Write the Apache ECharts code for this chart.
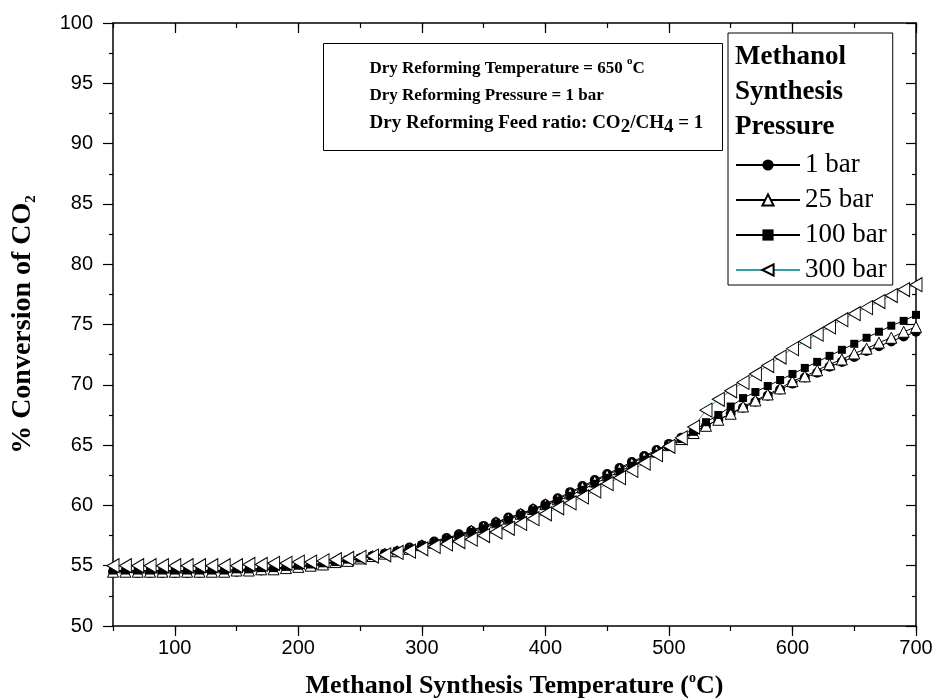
<!DOCTYPE html>
<html>
<head>
<meta charset="utf-8">
<script src="https://cdn.jsdelivr.net/npm/echarts@6/dist/echarts.min.js"></script>
<style>
  html, body { margin: 0; padding: 0; background: #fff; }
  #chart { width: 939px; height: 699px; }
</style>
</head>
<body>
<div id="chart"></div>
<script>
// Methanol synthesis temperature (°C), one point every 10 °C
const temperature = [
  50, 60, 70, 80, 90, 100, 110, 120, 130, 140,
  150, 160, 170, 180, 190, 200, 210, 220, 230, 240,
  250, 260, 270, 280, 290, 300, 310, 320, 330, 340,
  350, 360, 370, 380, 390, 400, 410, 420, 430, 440,
  450, 460, 470, 480, 490, 500, 510, 520, 530, 540,
  550, 560, 570, 580, 590, 600, 610, 620, 630, 640,
  650, 660, 670, 680, 690, 700
];

// % conversion of CO2
const conv1bar = [
  54.5, 54.5, 54.4, 54.4, 54.4, 54.4, 54.4, 54.4, 54.5, 54.5,
  54.5, 54.6, 54.6, 54.7, 54.8, 54.9, 55.0, 55.1, 55.3, 55.4,
  55.6, 55.8, 56.0, 56.2, 56.5, 56.7, 57.0, 57.3, 57.6, 57.9,
  58.3, 58.6, 59.0, 59.3, 59.7, 60.1, 60.6, 61.1, 61.6, 62.1,
  62.6, 63.1, 63.6, 64.1, 64.6, 65.1, 65.6, 66.1, 66.6, 67.1,
  67.6, 68.1, 68.6, 69.1, 69.6, 70.1, 70.6, 71.0, 71.5, 71.9,
  72.3, 72.8, 73.2, 73.6, 74.0, 74.4
];
const conv25bar = [
  54.5, 54.5, 54.5, 54.5, 54.5, 54.5, 54.5, 54.5, 54.5, 54.5,
  54.6, 54.6, 54.7, 54.7, 54.8, 54.9, 55.0, 55.1, 55.3, 55.4,
  55.6, 55.8, 56.0, 56.2, 56.4, 56.7, 56.9, 57.2, 57.5, 57.9,
  58.2, 58.6, 58.9, 59.3, 59.7, 60.1, 60.5, 61.0, 61.5, 62.0,
  62.5, 63.0, 63.5, 64.0, 64.5, 65.0, 65.5, 66.0, 66.6, 67.1,
  67.6, 68.2, 68.7, 69.2, 69.7, 70.3, 70.7, 71.2, 71.7, 72.1,
  72.6, 73.0, 73.5, 73.9, 74.4, 74.8
];
const conv100bar = [
  54.6, 54.6, 54.6, 54.6, 54.6, 54.6, 54.6, 54.6, 54.6, 54.6,
  54.7, 54.7, 54.8, 54.8, 54.9, 55.0, 55.1, 55.2, 55.3, 55.5,
  55.6, 55.8, 56.0, 56.2, 56.4, 56.7, 56.9, 57.2, 57.5, 57.8,
  58.1, 58.5, 58.8, 59.2, 59.6, 60.0, 60.4, 60.8, 61.3, 61.8,
  62.3, 62.8, 63.3, 63.8, 64.3, 64.9, 65.5, 66.1, 66.9, 67.5,
  68.2, 68.9, 69.4, 69.9, 70.4, 70.9, 71.4, 71.9, 72.4, 72.9,
  73.4, 73.9, 74.4, 74.9, 75.3, 75.8
];
const conv300bar = [
  55.0, 55.0, 55.0, 55.0, 55.0, 55.0, 55.0, 55.0, 55.0, 55.0,
  55.0, 55.1, 55.1, 55.2, 55.2, 55.3, 55.3, 55.4, 55.5, 55.6,
  55.7, 55.8, 55.9, 56.1, 56.2, 56.4, 56.6, 56.8, 57.0, 57.2,
  57.5, 57.8, 58.1, 58.5, 58.9, 59.3, 59.8, 60.2, 60.7, 61.2,
  61.8, 62.3, 62.9, 63.5, 64.2, 64.9, 65.6, 66.5, 67.9, 68.8,
  69.5, 70.2, 70.9, 71.6, 72.3, 73.0, 73.6, 74.2, 74.8, 75.4,
  75.9, 76.4, 76.9, 77.4, 77.9, 78.3
];

const seriesNames = ['1 bar', '25 bar', '100 bar', '300 bar'];
const xMajorTicks = [100, 200, 300, 400, 500, 600, 700];

const SERIF = 'Liberation Serif';
const SANS = 'Liberation Sans';
const AXIS_LINE = { lineStyle: { color: '#000', width: 1.5 } };
const TICK_STYLE = { color: '#000', width: 1.2 };

function pairs(values) {
  return temperature.map((t, i) => [t, values[i]]);
}

// axis titles with super/subscripts (y title is drawn a bit larger, as in the figure)
function titleRich(size) {
  return {
    t: { fontFamily: SERIF, fontWeight: 'bold', fontSize: size, color: '#000', lineHeight: size + 5 },
    sup: { fontFamily: SERIF, fontWeight: 'bold', fontSize: 14, color: '#000', lineHeight: 20, verticalAlign: 'top' },
    sub: { fontFamily: SERIF, fontWeight: 'bold', fontSize: 15, color: '#000', lineHeight: 16, verticalAlign: 'bottom' }
  };
}

const chart = echarts.init(document.getElementById('chart'), null, { renderer: 'canvas' });

chart.setOption({
  backgroundColor: '#fff',
  animation: false,
  grid: { left: 113, right: 23, top: 23, bottom: 73, containLabel: false, outerBoundsMode: 'none' },
  xAxis: [
    {
      // bottom axis: labels + minor ticks every 50
      type: 'value', min: 50, max: 700, interval: 50, position: 'bottom',
      axisLine: AXIS_LINE,
      axisTick: { length: 5, lineStyle: TICK_STYLE },
      axisLabel: {
        color: '#000', fontFamily: SANS, fontSize: 20, margin: 12,
        formatter: (v) => (v % 100 === 0 ? String(v) : '')
      },
      splitLine: { show: false },
      name: '{t|Methanol Synthesis Temperature (}{sup|o}{t|C)}',
      nameLocation: 'middle', nameGap: 45,
      nameTextStyle: { rich: titleRich(26) }
    },
    {
      // bottom axis: long ticks at the hundreds
      type: 'value', min: 50, max: 700, interval: 50, position: 'bottom',
      axisLine: { show: false },
      axisTick: { length: 10, lineStyle: TICK_STYLE, customValues: xMajorTicks },
      axisLabel: { show: false },
      splitLine: { show: false }
    },
    {
      type: 'value', min: 50, max: 700, interval: 50, position: 'top',
      axisLine: AXIS_LINE,
      axisTick: { inside: true, length: 5, lineStyle: TICK_STYLE },
      axisLabel: { show: false },
      splitLine: { show: false }
    },
    {
      type: 'value', min: 50, max: 700, interval: 50, position: 'top',
      axisLine: { show: false },
      axisTick: { inside: true, length: 10, lineStyle: TICK_STYLE, customValues: xMajorTicks },
      axisLabel: { show: false },
      splitLine: { show: false }
    }
  ],
  yAxis: [
    {
      type: 'value', min: 50, max: 100, interval: 5, position: 'left',
      axisLine: AXIS_LINE,
      axisTick: { length: 10, lineStyle: TICK_STYLE },
      minorTick: { show: true, splitNumber: 2, length: 4, lineStyle: TICK_STYLE },
      axisLabel: { color: '#000', fontFamily: SANS, fontSize: 20, margin: 20 },
      splitLine: { show: false },
      name: '{t|% Conversion of CO}{sub|2}',
      nameLocation: 'middle', nameGap: 74,
      nameTextStyle: { rich: titleRich(28) }
    },
    {
      type: 'value', min: 50, max: 100, interval: 5, position: 'right',
      axisLine: AXIS_LINE,
      axisTick: { inside: true, length: 10, lineStyle: TICK_STYLE },
      minorTick: { show: true, splitNumber: 2, length: 4, lineStyle: TICK_STYLE },
      axisLabel: { show: false },
      splitLine: { show: false }
    }
  ],
  legend: {
    data: seriesNames,
    orient: 'vertical',
    left: 728, top: 33,
    padding: [117, 6, 0, 7],
    itemWidth: 64, itemHeight: 14, itemGap: 5,
    backgroundColor: '#fff',
    borderColor: '#000', borderWidth: 1, borderRadius: 0,
    textStyle: { fontFamily: SERIF, fontSize: 27, color: '#000', lineHeight: 30 }
  },
  graphic: [
    {
      type: 'text', left: 735, top: 40, z: 100,
      style: {
        text: 'Methanol\nSynthesis\nPressure',
        font: 'bold 27px "Liberation Serif"', lineHeight: 35, fill: '#000'
      }
    },
    {
      type: 'group', left: 323, top: 43,
      children: [
        {
          type: 'rect', shape: { x: 0, y: 0, width: 399, height: 107 },
          style: { fill: '#fff', stroke: '#000', lineWidth: 1 }
        },
        {
          type: 'text', x: 46, y: 12,
          style: {
            text: '{b|Dry Reforming Temperature = 650 }{sup|o}{b|C}\n' +
                  '{b|Dry Reforming Pressure = 1 bar}\n' +
                  '{c|Dry Reforming Feed ratio: CO}{sub|2}{c|/CH}{sub|4}{c| = 1}',
            rich: {
              b: { fontFamily: SERIF, fontWeight: 'bold', fontSize: 17, lineHeight: 27, fill: '#000' },
              c: { fontFamily: SERIF, fontWeight: 'bold', fontSize: 19, lineHeight: 27, fill: '#000' },
              sup: { fontFamily: SERIF, fontWeight: 'bold', fontSize: 11, lineHeight: 17, verticalAlign: 'top', fill: '#000' },
              sub: { fontFamily: SERIF, fontWeight: 'bold', fontSize: 19, lineHeight: 21, verticalAlign: 'bottom', fill: '#000' }
            }
          }
        }
      ]
    }
  ],
  series: [
    {
      name: '1 bar', type: 'line', xAxisIndex: 0, yAxisIndex: 0,
      data: pairs(conv1bar),
      symbol: 'circle', symbolSize: 10,
      itemStyle: { color: '#000' },
      lineStyle: { color: '#000', width: 1 }
    },
    {
      name: '25 bar', type: 'line', xAxisIndex: 0, yAxisIndex: 0,
      data: pairs(conv25bar),
      symbol: 'triangle', symbolSize: 11,
      itemStyle: { color: '#fff', borderColor: '#000', borderWidth: 1 },
      lineStyle: { color: '#000', width: 1 }
    },
    {
      name: '100 bar', type: 'line', xAxisIndex: 0, yAxisIndex: 0,
      data: pairs(conv100bar),
      symbol: 'rect', symbolSize: 8,
      itemStyle: { color: '#000' },
      lineStyle: { color: '#000', width: 1 }
    },
    {
      name: '300 bar', type: 'line', xAxisIndex: 0, yAxisIndex: 0,
      data: pairs(conv300bar),
      symbol: 'triangle', symbolSize: [14, 12], symbolRotate: 90,
      itemStyle: { color: '#fff', borderColor: '#000', borderWidth: 1 },
      lineStyle: { color: '#3a9e9e', width: 1 }
    }
  ]
});
</script>
</body>
</html>
